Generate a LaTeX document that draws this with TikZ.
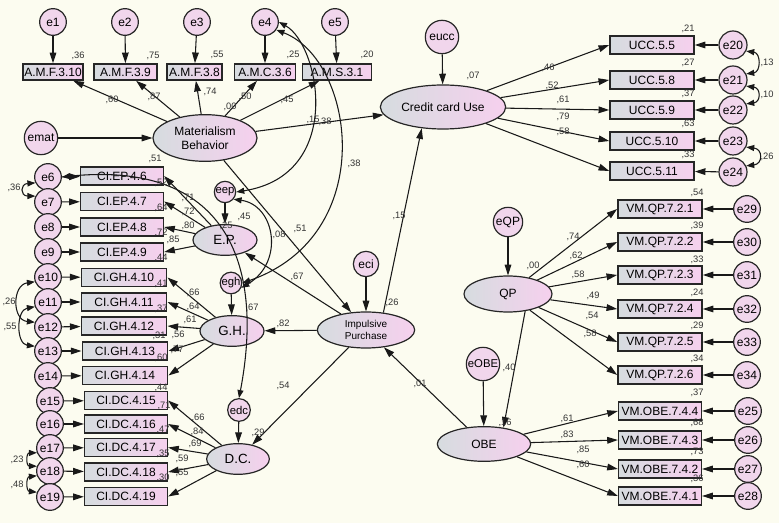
\documentclass[tikz,border=0pt]{standalone}
\usepackage{fontspec}
\setmainfont{Liberation Sans}
\usetikzlibrary{arrows.meta,shapes.geometric}
\definecolor{bg}{HTML}{FCFCF0}
\definecolor{gl}{HTML}{D6DCDF}
\definecolor{pk}{HTML}{F6D0EE}
\definecolor{ec}{HTML}{F1D6EC}
\definecolor{lc}{HTML}{333333}
\tikzset{
 obs/.style={draw=black!85, line width=1.2pt, rectangle, left color=gl, right color=pk, minimum height=13.5pt, inner xsep=1pt, inner ysep=0pt, font=\fontsize{9}{10}\selectfont},
 lat/.style={draw=black!85, line width=0.9pt, ellipse, left color=gl, right color=pk, inner sep=0pt, font=\fontsize{9}{10.5}\selectfont},
 err/.style={draw=black!85, line width=0.9pt, circle, fill=ec, inner sep=0pt, minimum size=20pt, font=\fontsize{9}{10}\selectfont},
 pth/.style={-{Triangle[length=8pt,width=5pt]}, line width=0.8pt, black!90},
 cov/.style={{Triangle[length=6pt,width=4.5pt]}-{Triangle[length=6pt,width=4.5pt]}, line width=0.8pt, black!90},
 lbl/.style={font=\fontsize{7}{8}\selectfont, text=lc, inner sep=0pt},
}
\begin{document}
\begin{tikzpicture}[x=0.75pt,y=-0.75pt]
\useasboundingbox (0,0) rectangle (779,523);
\fill[bg] (0,0) rectangle (779,523);

% ---- Materialism block
\node[err] (e1) at (53,22) {e1};
\node[err] (e2) at (125,22) {e2};
\node[err] (e3) at (197,22) {e3};
\node[err] (e4) at (265,22) {e4};
\node[err] (e5) at (335,22) {e5};
\node[obs,minimum width=45pt,minimum height=12pt] (b1) at (53,72) {A.M.F.3.10};
\node[obs,minimum width=47pt,minimum height=12pt] (b2) at (125.5,72) {A.M.F.3.9};
\node[obs,minimum width=41pt,minimum height=12pt] (b3) at (194.5,72) {A.M.F.3.8};
\node[obs,minimum width=46pt,minimum height=12pt] (b4) at (265,72) {A.M.C.3.6};
\node[obs,minimum width=52pt,minimum height=12pt] (b5) at (337,72) {A.M.S.3.1};
\node[lat,minimum width=78pt,minimum height=35pt,align=center] (mat) at (205,138) {Materialism\\Behavior};
\node[err,minimum size=25pt] (emat) at (41,138) {emat};

% ---- Credit card use block
\node[lat,minimum width=94pt,minimum height=33pt] (cc) at (443,107) {Credit card Use};
\node[err,minimum size=25pt] (eucc) at (442,37) {eucc};
\node[obs,minimum width=63pt] (u1) at (652,45) {UCC.5.5};
\node[obs,minimum width=63pt] (u2) at (652,80) {UCC.5.8};
\node[obs,minimum width=63pt] (u3) at (652,110) {UCC.5.9};
\node[obs,minimum width=63pt] (u4) at (652,141) {UCC.5.10};
\node[obs,minimum width=63pt] (u5) at (652,171) {UCC.5.11};
\node[err,minimum size=21pt] (e20) at (733,45) {e20};
\node[err,minimum size=21pt] (e21) at (733,80) {e21};
\node[err,minimum size=21pt] (e22) at (733,110) {e22};
\node[err,minimum size=21pt] (e23) at (733,141) {e23};
\node[err,minimum size=21pt] (e24) at (733,172) {e24};

% ---- E.P. block
\node[obs,minimum width=62pt] (p1) at (122,176) {CI.EP.4.6};
\node[obs,minimum width=62pt] (p2) at (122,201.5) {CI.EP.4.7};
\node[obs,minimum width=62pt] (p3) at (122,227) {CI.EP.4.8};
\node[obs,minimum width=62pt] (p4) at (122,252) {CI.EP.4.9};
\node[err] (e6) at (48,177) {e6};
\node[err] (e7) at (48,202) {e7};
\node[err] (e8) at (48,227) {e8};
\node[err] (e9) at (48,252) {e9};
\node[err,minimum size=16pt,font=\fontsize{8.5}{9}\selectfont] (eep) at (225,192) {eep};
\node[lat,minimum width=48pt,minimum height=23pt,font=\fontsize{10}{11}\selectfont] (ep) at (225,240) {E.P.};

% ---- G.H. block
\node[obs,minimum width=64pt] (g1) at (124,277.5) {CI.GH.4.10};
\node[obs,minimum width=64pt] (g2) at (124,302) {CI.GH.4.11};
\node[obs,minimum width=64pt] (g3) at (124,326) {CI.GH.4.12};
\node[obs,minimum width=64pt] (g4) at (125,351) {CI.GH.4.13};
\node[obs,minimum width=64pt] (g5) at (125,375.5) {CI.GH.4.14};
\node[err] (e10) at (48,277) {e10};
\node[err] (e11) at (48,302) {e11};
\node[err] (e12) at (48,327) {e12};
\node[err] (e13) at (48,351) {e13};
\node[err] (e14) at (48,376) {e14};
\node[err,minimum size=16pt,font=\fontsize{8.5}{9}\selectfont] (egh) at (231,283) {egh};
\node[lat,minimum width=48pt,minimum height=23pt,font=\fontsize{10}{11}\selectfont] (gh) at (232,331) {G.H.};

% ---- D.C. block
\node[obs,minimum width=62pt] (d1) at (126,400.5) {CI.DC.4.15};
\node[obs,minimum width=62pt] (d2) at (126,424) {CI.DC.4.16};
\node[obs,minimum width=62pt] (d3) at (126,447.5) {CI.DC.4.17};
\node[obs,minimum width=62pt] (d4) at (126,472) {CI.DC.4.18};
\node[obs,minimum width=62pt] (d5) at (126,496.5) {CI.DC.4.19};
\node[err] (e15) at (50,401) {e15};
\node[err] (e16) at (50,424) {e16};
\node[err] (e17) at (50,448) {e17};
\node[err] (e18) at (50,471) {e18};
\node[err] (e19) at (50,497) {e19};
\node[err,minimum size=17pt,font=\fontsize{8.5}{9}\selectfont] (edc) at (239,410) {edc};
\node[lat,minimum width=47pt,minimum height=23pt,font=\fontsize{10}{11}\selectfont] (dc) at (238,459) {D.C.};

% ---- Impulsive purchase
\node[lat,minimum width=73pt,minimum height=27pt,align=center,font=\fontsize{7.5}{9}\selectfont] (imp) at (366,330) {Impulsive\\Purchase};
\node[err,minimum size=19pt] (eci) at (366,264) {eci};

% ---- QP block
\node[lat,minimum width=66pt,minimum height=27pt] (qp) at (508,294) {QP};
\node[err,minimum size=22pt] (eqp) at (508,222) {eQP};
\node[obs,minimum width=63pt] (q1) at (660,209) {VM.QP.7.2.1};
\node[obs,minimum width=63pt] (q2) at (660,242) {VM.QP.7.2.2};
\node[obs,minimum width=63pt] (q3) at (660,275) {VM.QP.7.2.3};
\node[obs,minimum width=63pt] (q4) at (660,309) {VM.QP.7.2.4};
\node[obs,minimum width=63pt] (q5) at (660,342) {VM.QP.7.2.5};
\node[obs,minimum width=63pt] (q6) at (660,375) {VM.QP.7.2.6};
\node[err] (e29) at (747,209) {e29};
\node[err] (e30) at (747,242) {e30};
\node[err] (e31) at (747,275) {e31};
\node[err] (e32) at (747,309) {e32};
\node[err] (e33) at (747,342) {e33};
\node[err] (e34) at (747,375) {e34};

% ---- OBE block
\node[lat,minimum width=70pt,minimum height=26pt] (obe) at (484,444) {OBE};
\node[err,minimum size=25pt,font=\fontsize{8.5}{9}\selectfont] (eobe) at (483,364) {eOBE};
\node[obs,minimum width=62pt] (o1) at (660,411) {VM.OBE.7.4.4};
\node[obs,minimum width=62pt] (o2) at (660,440) {VM.OBE.7.4.3};
\node[obs,minimum width=62pt] (o3) at (660,469) {VM.OBE.7.4.2};
\node[obs,minimum width=62pt] (o4) at (660,496) {VM.OBE.7.4.1};
\node[err] (e25) at (748,411) {e25};
\node[err] (e26) at (748,440) {e26};
\node[err] (e27) at (748,469) {e27};
\node[err] (e28) at (748,496) {e28};

% ---- error to indicator arrows
\foreach \a/\b in {e1/b1,e2/b2,e3/b3,e4/b4,e5/b5,
  e20/u1,e21/u2,e22/u3,e23/u4,e24/u5,
  e6/p1,e7/p2,e8/p3,e9/p4,
  e10/g1,e11/g2,e12/g3,e13/g4,e14/g5,
  e15/d1,e16/d2,e17/d3,e18/d4,e19/d5,
  e29/q1,e30/q2,e31/q3,e32/q4,e33/q5,e34/q6,
  e25/o1,e26/o2,e27/o3,e28/o4,
  emat/mat,eucc/cc,eep/ep,egh/gh,edc/dc,eci/imp,eqp/qp,eobe/obe}
  \draw[pth] (\a) -- (\b);

% ---- loadings
\foreach \b in {b1,b2,b3,b4,b5} \draw[pth] (mat) -- (\b);
\foreach \b in {u1,u2,u3,u4,u5} \draw[pth] (cc) -- (\b.west);
\foreach \b in {p1,p2,p3,p4} \draw[pth] (ep) -- (\b.east);
\foreach \b in {g1,g2,g3,g4,g5} \draw[pth] (gh) -- (\b.east);
\foreach \b in {d1,d2,d3,d4,d5} \draw[pth] (dc) -- (\b.east);
\foreach \b in {q1,q2,q3,q4,q5,q6} \draw[pth] (qp) -- (\b.west);
\foreach \b in {o1,o2,o3,o4} \draw[pth] (obe) -- (\b.west);

% ---- structural paths
\draw[pth] (mat) -- (cc);
\draw[pth] (mat) -- (imp);
\draw[pth] (imp.45) -- (cc.-135);
\draw[pth] (imp) -- (ep);
\draw[pth] (imp) -- (gh);
\draw[pth] (imp) -- (dc);
\draw[pth] (obe) -- (imp);
\draw[pth] (qp.-45) -- (obe.40);

% ---- covariances
\draw[cov] (e6.205) .. controls (20,184) and (20,196) .. (e7.155);
\draw[cov] (e10.200) .. controls (12,285) and (12,320) .. (e12.160);
\draw[cov] (e11.200) .. controls (16,310) and (16,344) .. (e13.160);
\draw[cov] (e17.200) .. controls (26,453) and (26,466) .. (e18.160);
\draw[cov] (e18.200) .. controls (26,477) and (26,491) .. (e19.160);
\draw[cov] (e20.-25) .. controls (761,53) and (761,72) .. (e21.25);
\draw[cov] (e21.-25) .. controls (761,88) and (761,102) .. (e22.25);
\draw[cov] (e23.-25) .. controls (763,149) and (763,164) .. (e24.25);
\draw[cov] (e4.east) .. controls (320,45) and (345,175) .. (eep.east);
\draw[cov] (e4.-35) .. controls (355,60) and (380,235) .. (egh.east);
\draw[cov] (eep.-40) .. controls (275,205) and (285,262) .. (egh.-25);
\draw[cov] (e6.east) .. controls (225,160) and (265,262) .. (edc.north);

% ---- labels
\foreach \t/\x/\y [count=\i] in {
 60/112/100, 87/154/97, 74/210/92, 50/245/97, 00/230/107, 45/287/100, 15/313/120, 38/325/122,
 36/78/56, 75/153/56, 55/217/55, 25/293/55, 20/367/55,
 07/473/76, 46/548/68, 52/552/86, 61/563/100, 79/563/117, 58/563/132,
 21/688/29, 27/688/63, 37/688/94, 63/688/124, 33/688/155,
 13/767/63, 10/767/95, 26/767/157,
 15/399/216, 26/392/303, 01/420/384, 82/283/324, 54/283/386, 67/297/277, 51/300/229,
 45/244/217, 25/226/226, 08/279/235, 38/354/164,
 71/188/198, 72/188/212, 80/188/226, 85/173/240, 36/14/188,
 51/155/159, 52/161/183, 64/161/208, 72/161/233, 44/161/258,
 41/161/284, 37/161/309, 31/159/336, 60/161/358, 44/161/388,
 71/164/406, 47/163/430, 35/163/454, 30/163/478,
 67/252/308, 66/193/293, 64/193/307, 61/190/320, 56/178/335, 77/177/350, 26/9/302, 55/10/327,
 29/258/433, 66/198/418, 84/197/432, 69/195/444, 59/182/459, 55/182/473, 23/17/460, 48/17/485,
 00/533/266, 74/573/237, 62/576/256, 58/578/275, 49/593/296, 54/592/316, 58/590/334,
 54/697/193, 39/697/226, 33/697/260, 24/697/293, 29/697/326, 34/697/359,
 40/509/368, 16/505/423, 61/567/419, 83/567/435, 85/583/450, 60/583/465,
 37/697/393, 68/697/423, 73/697/452, 36/697/479}
 \node[lbl] (lab\i) at (\x,\y) {,\t};
\end{tikzpicture}
\end{document}
